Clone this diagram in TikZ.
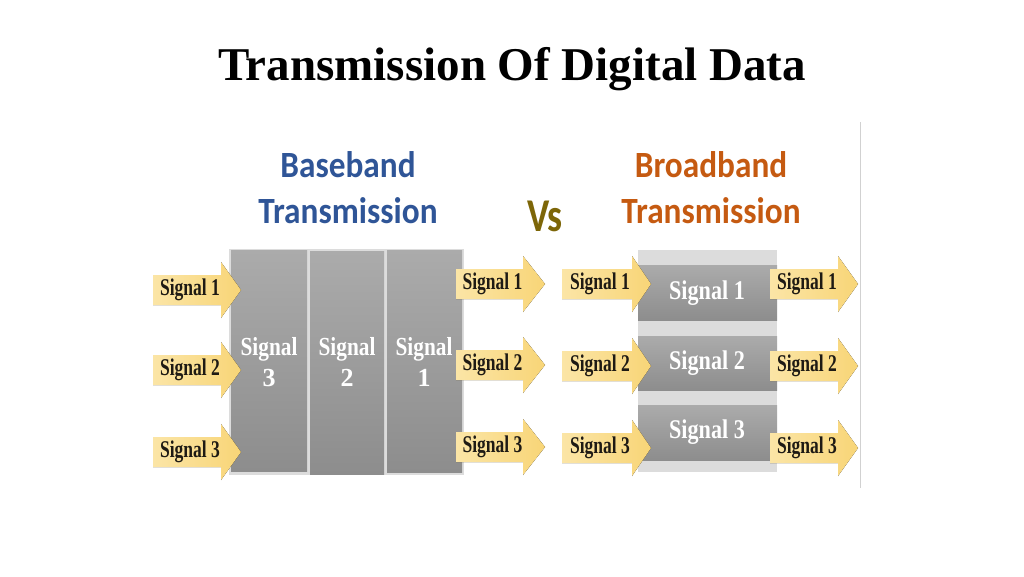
\documentclass[tikz,border=0pt]{standalone}
\usepackage{fontspec}
\setmainfont{Liberation Serif}
\newfontfamily\headfont{Carlito}
\definecolor{arrowyel}{HTML}{F8D577}
\definecolor{arrowyelL}{HTML}{FBE5A6}
\definecolor{headblue}{HTML}{2F5597}
\definecolor{headorange}{HTML}{C55A11}
\definecolor{vsolive}{HTML}{7D6608}
\definecolor{labeldark}{HTML}{1E1A14}
\definecolor{blocktop}{HTML}{ABABAB}
\definecolor{blockbot}{HTML}{8D8D8D}
\definecolor{blockbg}{HTML}{DCDCDC}
\tikzset{
  arrowfill/.style={left color=arrowyelL, right color=arrowyel, draw=none},
  arrowlbl/.style={text=labeldark, font=\bfseries\fontsize{24}{26}\selectfont, inner sep=0pt},
  colbox/.style={top color=blocktop, bottom color=blockbot, draw=none},
  coltext/.style={text=white, font=\bfseries\fontsize{26}{31}\selectfont, align=center, inner sep=0pt},
  bartext/.style={text=white, font=\bfseries\fontsize{27}{30}\selectfont, inner sep=0pt},
  headtext/.style={font=\headfont\bfseries\fontsize{37}{44}\selectfont, inner sep=0pt, anchor=base},
}
% #1 name, #2 left x, #3 head base x, #4 tip x, #5 y centre, #6 label
\newcommand{\sigarr}[6]{%
  \fill[arrowfill] (#2,#5-15) -- (#3,#5-15) -- (#3,#5-28) -- (#4,#5)
     -- (#3,#5+28) -- (#3,#5+15) -- (#2,#5+15) -- cycle;
  \node[arrowlbl] (#1) at ({(#2+#3)/2+3},#5) {\scalebox{0.73}[1]{#6}};}
\begin{document}
\begin{tikzpicture}[x=1pt,y=-1pt]
\useasboundingbox[fill=white] (0,0) rectangle (1024,576);

% title
\node[font=\bfseries\fontsize{47}{50}\selectfont, anchor=base, inner sep=0pt] (title) at (512,80) {Transmission Of Digital Data};

% image border line
\draw[color=black!18, line width=1pt] (860,122) -- (860,488);

% headings
\node[headtext, text=headblue] (bb1) at (348,177) {\scalebox{0.9}[1]{Baseband}};
\node[headtext, text=headblue] (bb2) at (348,223) {\scalebox{0.9}[1]{Transmission}};
\node[headtext, text=vsolive, font=\headfont\bfseries\fontsize{47}{50}\selectfont] (vs) at (545,231) {\scalebox{0.8}[1]{Vs}};
\node[headtext, text=headorange] (br1) at (711,177) {\scalebox{0.9}[1]{Broadband}};
\node[headtext, text=headorange] (br2) at (711,223) {\scalebox{0.9}[1]{Transmission}};

% baseband block
\fill[blockbg] (229,249) rectangle (464,475);
\fill[colbox] (231,250) rectangle (307,471);
\fill[colbox] (310,251) rectangle (384,474);
\fill[colbox] (387,250) rectangle (462,472);
\node[coltext] (c3) at (269,362) {\scalebox{0.82}[1]{Signal}\\3};
\node[coltext] (c2) at (347,362) {\scalebox{0.82}[1]{Signal}\\2};
\node[coltext] (c1) at (424,362) {\scalebox{0.82}[1]{Signal}\\1};

% broadband block
\fill[blockbg] (638,250) rectangle (777,472);
\fill[colbox] (638,265) rectangle (777,320);
\fill[colbox] (638,336) rectangle (777,390);
\fill[colbox] (638,405) rectangle (777,460);
\node[bartext] (b1) at (707,293) {\scalebox{0.82}[1]{Signal 1}};
\node[bartext] (b2) at (707,363) {\scalebox{0.82}[1]{Signal 2}};
\node[bartext] (b3) at (707,432) {\scalebox{0.82}[1]{Signal 3}};

% baseband arrows
\sigarr{li1}{153}{221}{241}{290}{Signal 1}
\sigarr{li2}{153}{221}{241}{370}{Signal 2}
\sigarr{li3}{153}{221}{241}{452}{Signal 3}
\sigarr{lo1}{456}{523}{545}{284}{Signal 1}
\sigarr{lo2}{456}{523}{545}{365}{Signal 2}
\sigarr{lo3}{456}{523}{545}{447}{Signal 3}

% broadband arrows
\sigarr{ri1}{562}{632}{651}{284}{Signal 1}
\sigarr{ri2}{562}{632}{651}{366}{Signal 2}
\sigarr{ri3}{562}{632}{651}{448}{Signal 3}
\sigarr{ro1}{770}{838}{858}{284}{Signal 1}
\sigarr{ro2}{770}{838}{858}{366}{Signal 2}
\sigarr{ro3}{770}{838}{858}{448}{Signal 3}
\end{tikzpicture}
\end{document}
